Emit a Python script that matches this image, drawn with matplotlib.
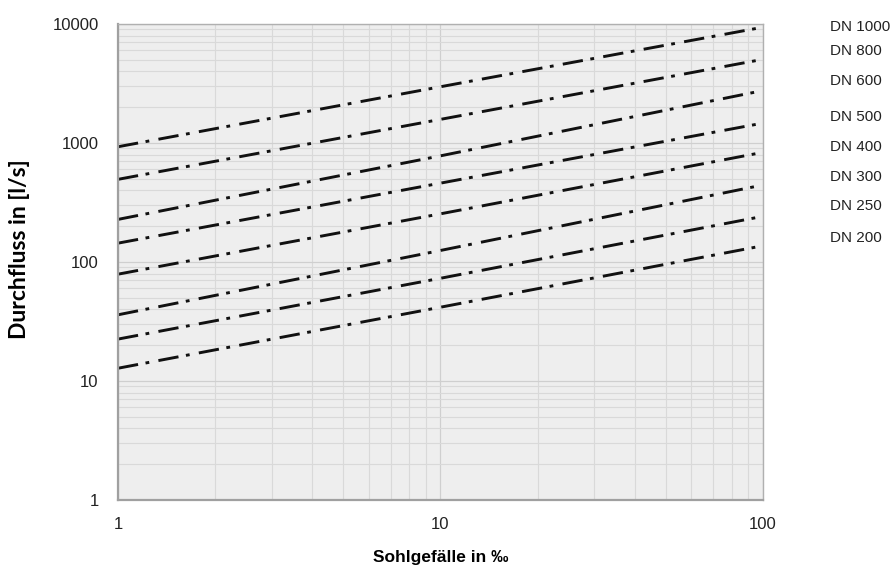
import matplotlib
matplotlib.use("Agg")
import matplotlib.pyplot as plt
import numpy as np

# Sohlgefaelle (per mille) and flow rates (l/s)
gefaelle = [1, 10, 100]
dn_labels = ['DN 1000', 'DN 800', 'DN 600', 'DN 500', 'DN 400', 'DN 300', 'DN 250', 'DN 200']
q_dn1000 = [930, 2970, 9400]
q_dn800 = [495, 1580, 5050]
q_dn600 = [228, 780, 2760]
q_dn500 = [144, 460, 1470]
q_dn400 = [79, 254, 835]
q_dn300 = [36, 125, 444]
q_dn250 = [22.5, 73, 242]
q_dn200 = [12.8, 41.7, 137]
y_ticks = [1, 10, 100, 1000, 10000]
x_ticks = [1, 10, 100]

series = [q_dn1000, q_dn800, q_dn600, q_dn500, q_dn400, q_dn300, q_dn250, q_dn200]

# layout
W, H = 893, 570
fig = plt.figure(figsize=(W / 100, H / 100), dpi=100)
ax = fig.add_axes([118 / W, 70 / H, 645 / W, 476 / H])
ax.set_facecolor('#eeeeee')

for q in series:
    ax.plot(gefaelle, q, color='#111111', lw=2.1,
            linestyle=(0, (7, 2.6, 1.3, 3.2)), solid_capstyle='butt')

ax.set_xscale('log')
ax.set_yscale('log')
ax.set_xlim(1, 100)
ax.set_ylim(1, 10000)

ax.set_xticks(x_ticks, [str(v) for v in x_ticks])
ax.set_yticks(y_ticks, [str(v) for v in y_ticks])
ax.tick_params(which='both', length=0, labelsize=12, labelcolor='#222222')
ax.tick_params(axis='x', pad=12)
ax.tick_params(axis='y', pad=14)
for lab in ax.get_xticklabels() + ax.get_yticklabels():
    lab.set_family('Liberation Sans')

ax.grid(which='major', color='#cfcfcf', lw=0.9)
ax.grid(which='minor', color='#d9d9d9', lw=0.8)
ax.set_axisbelow(True)

for s in ['top', 'right']:
    ax.spines[s].set_color('#b0b0b0')
    ax.spines[s].set_linewidth(1.0)
for s in ['left', 'bottom']:
    ax.spines[s].set_color('#a0a0a0')
    ax.spines[s].set_linewidth(1.6)

ax.set_xlabel('Sohlgefälle in ‰', fontsize=12.5, fontweight='bold',
              family=['Liberation Sans', 'DejaVu Sans'])
ax.xaxis.set_label_coords(0.5, -0.104)
ax.set_ylabel('Durchfluss in [l/s]', fontsize=16.5, fontweight='bold',
              family='Lato')
ax.yaxis.set_label_coords(-0.136, 0.527)

# DN labels to the right of the plot
label_y = [27, 51, 81, 117, 147, 177, 206, 238]
for txt, yp in zip(dn_labels, label_y):
    fig.text(830 / W, 1 - yp / H, txt, fontsize=11, family='Liberation Sans',
             color='#222222', va='center', ha='left')

fig.savefig('out.png', dpi=100)
